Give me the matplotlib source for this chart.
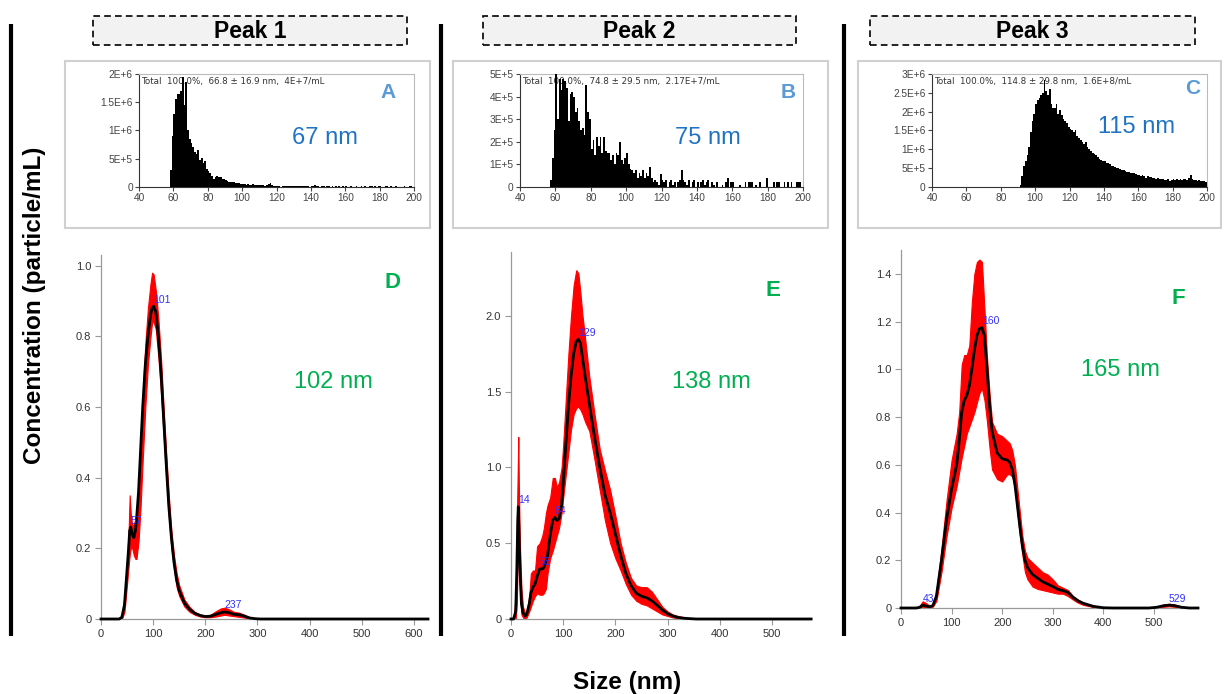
import numpy as np
import matplotlib
matplotlib.use("Agg")
import matplotlib.pyplot as plt
from matplotlib.lines import Line2D
from matplotlib.patches import Rectangle

plt.rcParams['font.family'] = ['Liberation Sans', 'DejaVu Sans']

W, H = 1226, 694

# ---- NTA histograms (1 nm bins) ----
hist_a_start = 58   # x1E+6
hist_a = [0.30, 0.90, 1.30, 1.55, 1.65, 1.65, 1.70, 1.95, 1.45, 1.85,
          1.00, 0.85, 0.78, 0.70, 0.62, 0.58, 0.66, 0.47, 0.52, 0.42,
          0.46, 0.32, 0.28, 0.25, 0.20, 0.15, 0.18, 0.20, 0.18, 0.17,
          0.15, 0.14, 0.12, 0.10, 0.09, 0.08, 0.08, 0.09, 0.07, 0.07,
          0.07, 0.06, 0.06, 0.05, 0.04, 0.05, 0.04, 0.04, 0.05, 0.03,
          0.04, 0.03, 0.04, 0.03, 0.03, 0.02, 0.03, 0.05, 0.07, 0.03,
          0.02, 0.01, 0.02, 0.01, 0.00, 0.01, 0.02, 0.01, 0.01, 0.02,
          0.01, 0.01, 0.02, 0.01, 0.01, 0.01, 0.02, 0.01, 0.01, 0.01,
          0.01, 0.00, 0.01, 0.02, 0.04, 0.01, 0.01, 0.00, 0.01, 0.01,
          0.00, 0.01, 0.01, 0.00, 0.02, 0.00, 0.01, 0.00, 0.01, 0.00,
          0.01, 0.00, 0.01, 0.00, 0.00, 0.01, 0.00, 0.00, 0.01, 0.00,
          0.00, 0.01, 0.00, 0.02, 0.00, 0.00, 0.01, 0.01, 0.00, 0.01,
          0.00, 0.02, 0.01, 0.00, 0.00, 0.01, 0.02, 0.00, 0.01, 0.00,
          0.00, 0.01, 0.00, 0.00, 0.00, 0.00, 0.01, 0.00, 0.00, 0.02, 0.01, 0.00]

hist_b_start = 57   # x1E+5
hist_b = [0.3, 1.3, 2.5, 5.0, 3.0, 4.8, 4.3, 4.8, 4.7, 4.4,
          2.9, 4.1, 4.2, 4.0, 3.3, 3.5, 2.9, 2.5, 2.6, 2.3,
          4.5, 3.3, 3.0, 1.7, 2.1, 1.4, 2.2, 1.8, 2.2, 1.5,
          2.2, 1.6, 1.5, 1.5, 1.2, 1.4, 1.0, 1.5, 1.4, 2.0,
          1.2, 1.0, 1.3, 1.5, 1.0, 0.8, 0.75, 0.6, 0.75, 0.4,
          0.6, 0.5, 0.75, 0.4, 0.6, 0.5, 0.9, 0.4, 0.2, 0.3,
          0.2, 0.1, 0.57, 0.3, 0.2, 0.3, 0.0, 0.2, 0.3, 0.1,
          0.2, 0.0, 0.2, 0.3, 0.75, 0.3, 0.2, 0.1, 0.3, 0.0,
          0.2, 0.3, 0.0, 0.2, 0.0, 0.2, 0.3, 0.1, 0.2, 0.3,
          0.0, 0.2, 0.1, 0.0, 0.2, 0.0, 0.0, 0.1, 0.0, 0.2,
          0.4, 0.0, 0.2, 0.2, 0.0, 0.0, 0.0, 0.1, 0.0, 0.0,
          0.2, 0.0, 0.2, 0.2, 0.2, 0.0, 0.1, 0.0, 0.2, 0.0,
          0.0, 0.0, 0.4, 0.0, 0.0, 0.0, 0.2, 0.0, 0.2, 0.2,
          0.0, 0.0, 0.2, 0.0, 0.2, 0.0, 0.2, 0.0, 0.0, 0.2, 0.2, 0.2, 0.0]

hist_c_start = 91   # x1E+6
hist_c = [0.05, 0.30, 0.55, 0.70, 0.85, 1.05, 1.45, 1.75, 1.95, 2.20,
          2.30, 2.35, 2.45, 2.50, 2.85, 2.55, 2.45, 2.60, 2.20, 2.10,
          2.10, 2.20, 1.95, 2.05, 1.90, 1.80, 1.75, 1.70, 1.60, 1.55,
          1.50, 1.45, 1.50, 1.35, 1.30, 1.25, 1.20, 1.15, 1.20, 1.05,
          1.00, 0.95, 0.90, 0.88, 0.85, 0.80, 0.75, 0.72, 0.70, 0.68,
          0.65, 0.64, 0.60, 0.57, 0.55, 0.52, 0.50, 0.50, 0.47, 0.45,
          0.44, 0.42, 0.40, 0.40, 0.38, 0.37, 0.38, 0.35, 0.33, 0.32,
          0.30, 0.31, 0.28, 0.25, 0.28, 0.26, 0.27, 0.25, 0.24, 0.22,
          0.24, 0.22, 0.20, 0.21, 0.18, 0.19, 0.20, 0.17, 0.19, 0.20,
          0.18, 0.20, 0.19, 0.21, 0.18, 0.20, 0.22, 0.19, 0.25, 0.33,
          0.20, 0.18, 0.19, 0.17, 0.18, 0.16, 0.17, 0.15, 0.12]

# ---- size distributions: mean with upper / lower error band ----
d_x = [0, 35, 40, 45, 50, 53, 55, 57, 60, 63, 66, 68, 72, 76, 80, 85, 90, 95, 98, 101,
       105, 110, 115, 120, 125, 130, 135, 140, 145, 150, 160, 170, 180, 190, 200, 210,
       220, 230, 237, 245, 255, 265, 275, 285, 295, 305, 627]
d_mean = [0, 0, 0.005, 0.04, 0.14, 0.20, 0.25, 0.26, 0.24, 0.23, 0.25, 0.28, 0.36, 0.48,
          0.60, 0.72, 0.80, 0.86, 0.88, 0.885, 0.87, 0.80, 0.70, 0.57, 0.44, 0.32, 0.23,
          0.16, 0.11, 0.08, 0.045, 0.027, 0.016, 0.010, 0.007, 0.008, 0.013, 0.018, 0.020,
          0.018, 0.013, 0.012, 0.008, 0.003, 0.001, 0, 0]
d_hi = [0, 0, 0.01, 0.06, 0.17, 0.25, 0.35, 0.30, 0.26, 0.27, 0.28, 0.30, 0.38, 0.50,
        0.64, 0.78, 0.88, 0.95, 0.98, 0.975, 0.93, 0.85, 0.74, 0.60, 0.47, 0.35, 0.25,
        0.18, 0.13, 0.095, 0.055, 0.034, 0.020, 0.013, 0.009, 0.012, 0.022, 0.030, 0.032,
        0.028, 0.020, 0.018, 0.012, 0.005, 0.002, 0, 0]
d_lo = [0, 0, 0, 0.02, 0.10, 0.15, 0.18, 0.20, 0.20, 0.18, 0.17, 0.17, 0.22, 0.32,
        0.45, 0.60, 0.72, 0.80, 0.84, 0.84, 0.82, 0.74, 0.64, 0.52, 0.40, 0.29, 0.20,
        0.14, 0.09, 0.065, 0.035, 0.020, 0.012, 0.007, 0.005, 0.005, 0.007, 0.010, 0.012,
        0.010, 0.008, 0.006, 0.004, 0.001, 0, 0, 0]

e_x = [0, 5, 9, 11, 13, 14, 15, 17, 20, 23, 27, 30, 35, 38, 42, 46, 50, 55, 60, 63, 67,
       70, 75, 80, 84, 88, 92, 97, 100, 105, 110, 115, 120, 125, 129, 133, 137, 142, 150,
       160, 170, 180, 190, 200, 210, 220, 230, 240, 250, 260, 270, 280, 290, 300, 310,
       320, 335, 350, 355, 575]
e_mean = [0, 0, 0.05, 0.30, 0.65, 0.74, 0.62, 0.35, 0.10, 0.04, 0.02, 0.03, 0.10, 0.17,
          0.21, 0.23, 0.28, 0.33, 0.33, 0.34, 0.38, 0.42, 0.55, 0.65, 0.67, 0.65, 0.66,
          0.75, 0.90, 1.15, 1.40, 1.60, 1.75, 1.83, 1.845, 1.82, 1.72, 1.60, 1.42, 1.20,
          1.00, 0.82, 0.70, 0.56, 0.42, 0.30, 0.22, 0.17, 0.15, 0.14, 0.12, 0.09, 0.06,
          0.035, 0.02, 0.01, 0.004, 0.001, 0, 0]
e_hi = [0, 0, 0.15, 0.60, 1.00, 1.20, 0.90, 0.50, 0.20, 0.08, 0.04, 0.05, 0.15, 0.30,
        0.32, 0.32, 0.48, 0.50, 0.55, 0.60, 0.70, 0.75, 0.80, 0.93, 0.93, 0.87, 0.90,
        1.00, 1.15, 1.45, 1.75, 2.00, 2.20, 2.30, 2.28, 2.15, 2.00, 1.85, 1.60, 1.35,
        1.12, 0.98, 0.85, 0.68, 0.50, 0.37, 0.27, 0.22, 0.21, 0.21, 0.18, 0.13, 0.08,
        0.05, 0.03, 0.02, 0.008, 0.002, 0, 0]
e_lo = [0, 0, 0, 0.10, 0.40, 0.55, 0.45, 0.20, 0.03, 0.01, 0, 0.01, 0.05, 0.08,
        0.12, 0.15, 0.17, 0.16, 0.16, 0.17, 0.20, 0.30, 0.40, 0.45, 0.50, 0.55, 0.60,
        0.70, 0.80, 0.95, 1.10, 1.25, 1.35, 1.39, 1.40, 1.38, 1.35, 1.30, 1.24, 1.05,
        0.85, 0.65, 0.50, 0.40, 0.32, 0.23, 0.16, 0.12, 0.10, 0.09, 0.07, 0.05, 0.03,
        0.02, 0.01, 0.005, 0, 0, 0, 0]

f_x = [0, 30, 37, 43, 50, 57, 63, 70, 80, 90, 100, 110, 115, 120, 125, 130, 135, 140,
       145, 150, 155, 160, 165, 170, 175, 180, 190, 200, 210, 215, 220, 225, 230, 235,
       240, 245, 250, 260, 270, 280, 290, 300, 310, 320, 330, 340, 350, 360, 380, 400,
       420, 490, 505, 520, 530, 540, 555, 570, 587]
f_mean = [0, 0, 0.003, 0.012, 0.008, 0.005, 0.01, 0.05, 0.20, 0.37, 0.50, 0.60, 0.70,
          0.82, 0.87, 0.89, 0.93, 1.00, 1.08, 1.14, 1.17, 1.175, 1.14, 1.00, 0.85, 0.74,
          0.65, 0.625, 0.62, 0.61, 0.58, 0.52, 0.43, 0.34, 0.26, 0.20, 0.17, 0.14, 0.125,
          0.11, 0.10, 0.09, 0.078, 0.073, 0.065, 0.045, 0.03, 0.02, 0.007, 0.001, 0, 0,
          0.003, 0.010, 0.012, 0.010, 0.003, 0, 0]
f_hi = [0, 0, 0.01, 0.028, 0.02, 0.008, 0.015, 0.07, 0.25, 0.45, 0.62, 0.73, 0.82,
        1.02, 1.06, 1.06, 1.10, 1.28, 1.40, 1.45, 1.46, 1.45, 1.25, 1.05, 0.90, 0.78,
        0.73, 0.72, 0.70, 0.69, 0.66, 0.60, 0.50, 0.40, 0.30, 0.24, 0.21, 0.19, 0.17,
        0.15, 0.14, 0.12, 0.095, 0.085, 0.075, 0.05, 0.035, 0.022, 0.009, 0.002, 0, 0,
        0.005, 0.015, 0.018, 0.015, 0.005, 0, 0]
f_lo = [0, 0, 0, 0.003, 0.002, 0.002, 0.006, 0.03, 0.15, 0.30, 0.42, 0.51, 0.57,
        0.63, 0.68, 0.73, 0.76, 0.79, 0.82, 0.86, 0.90, 0.92, 0.87, 0.78, 0.67, 0.58,
        0.54, 0.53, 0.56, 0.56, 0.55, 0.50, 0.40, 0.30, 0.22, 0.15, 0.12, 0.09, 0.08,
        0.075, 0.07, 0.065, 0.06, 0.06, 0.05, 0.035, 0.022, 0.013, 0.004, 0, 0, 0,
        0.001, 0.005, 0.007, 0.005, 0.001, 0, 0]

# peak positions marked on each distribution (size, height)
d_peaks = [(57, 0.26), (101, 0.885), (237, 0.02)]
e_peaks = [(14, 0.74), (55, 0.33), (84, 0.67), (129, 1.845)]
f_peaks = [(43, 0.012), (160, 1.175), (529, 0.012)]

summary = ["Total  100.0%,  66.8 \u00b1 16.9 nm,  4E+7/mL",
           "Total  100.0%,  74.8 \u00b1 29.5 nm,  2.17E+7/mL",
           "Total  100.0%,  114.8 \u00b1 29.8 nm,  1.6E+8/mL"]
mode_nm = ["67 nm", "75 nm", "115 nm"]
mean_nm = ["102 nm", "138 nm", "165 nm"]


fig = plt.figure(figsize=(W / 100, H / 100), dpi=100)


def add_ax(l, t, r, b):
    # axes from pixel box (left, top, right, bottom)
    return fig.add_axes([l / W, 1 - b / H, (r - l) / W, (b - t) / H])


def fig_text(x, y, s, **kw):
    fig.text(x / W, 1 - y / H, s, **kw)


def fig_line(x0, y0, x1, y1, **kw):
    fig.add_artist(Line2D([x0 / W, x1 / W], [1 - y0 / H, 1 - y1 / H],
                          transform=fig.transFigure, **kw))


def fig_rect(l, t, r, b, **kw):
    fig.add_artist(Rectangle((l / W, 1 - b / H), (r - l) / W, (b - t) / H,
                             transform=fig.transFigure, **kw))


# separators
for xs in [11, 441, 844]:
    fig_line(xs, 24, xs, 636, color='black', lw=3, solid_capstyle='butt')

# peak headers
for (l, r), name in zip([(93, 407), (483, 796), (870, 1195)], ["Peak 1", "Peak 2", "Peak 3"]):
    fig_rect(l, 16, r, 45, facecolor='#f2f2f2', edgecolor='black', lw=1.2,
             linestyle=(0, (4, 2.5)))
    fig_text((l + r) / 2, 31, name, ha='center', va='center', fontsize=16.5,
             fontweight='bold')

# ---- top row: histograms ----
hist_sets = [
    (hist_a_start, hist_a, [0, 0.5, 1, 1.5, 2], ["0", "5E+5", "1E+6", "1.5E+6", "2E+6"], 2.0,
     (65, 430), (139, 414), "A", (388, 93), (325, 138)),
    (hist_b_start, hist_b, [0, 1, 2, 3, 4, 5], ["0", "1E+5", "2E+5", "3E+5", "4E+5", "5E+5"], 5.0,
     (453, 828), (520, 803), "B", (788, 93), (708, 138)),
    (hist_c_start, hist_c, [0, 0.5, 1, 1.5, 2, 2.5, 3],
     ["0", "5E+5", "1E+6", "1.5E+6", "2E+6", "2.5E+6", "3E+6"], 3.0,
     (858, 1221), (932, 1207), "C", (1193, 88), (1136, 127)),
]

for i, (start, vals, yt, ytl, ytop, box, axx, letter, lpos, mpos) in enumerate(hist_sets):
    fig_rect(box[0], 61, box[1], 228, facecolor='none', edgecolor='#d0d0d0', lw=1.5)
    ax = add_ax(axx[0], 74, axx[1], 187)
    edges = start + np.arange(len(vals))
    ax.bar(edges, vals, width=1.0, align='edge', color='black', linewidth=0, zorder=3)
    ax.set_xlim(40, 200)
    ax.set_ylim(0, ytop)
    ax.set_xticks(range(40, 201, 20))
    ax.set_yticks(yt)
    ax.set_yticklabels(ytl)
    ax.tick_params(labelsize=7.3, length=3, width=0.8, colors='#444444', pad=1.5)
    for s in ['top', 'right']:
        ax.spines[s].set_color('#bbbbbb')
    for s in ['left', 'bottom']:
        ax.spines[s].set_color('#333333')
    ax.text(0.008, 0.97, summary[i], transform=ax.transAxes, fontsize=6.3,
            color='#333333', va='top', ha='left', zorder=2,
            family=['DejaVu Sans'])
    fig_text(lpos[0], lpos[1], letter, ha='center', va='center', fontsize=15,
             fontweight='bold', color='#5b9bd5')
    fig_text(mpos[0], mpos[1], mode_nm[i], ha='center', va='center',
             fontsize=17, color='#1f73c4')

# ---- bottom row: size distributions ----
dist_sets = [
    (d_x, d_mean, d_lo, d_hi, d_peaks, (101, 255, 428, 619), 627, 1.03,
     [0, 0.2, 0.4, 0.6, 0.8, 1.0], range(0, 601, 100), "D", (392, 282), (333, 382)),
    (e_x, e_mean, e_lo, e_hi, e_peaks, (511, 252, 808, 619), 569, 2.42,
     [0, 0.5, 1.0, 1.5, 2.0], range(0, 501, 100), "E", (773, 290), (711, 382)),
    (f_x, f_mean, f_lo, f_hi, f_peaks, (901, 250, 1198, 608), 587, 1.50,
     [0, 0.2, 0.4, 0.6, 0.8, 1.0, 1.2, 1.4], range(0, 501, 100), "F", (1178, 298), (1120, 370)),
]

for i, (xs, mean, lo, hi, peaks, box, xmax, ymax, yt, xt, letter, lpos, mpos) in enumerate(dist_sets):
    ax = add_ax(*box)
    ax.fill_between(xs, lo, hi, color='#ff0000', linewidth=0.8, edgecolor='#ff0000', zorder=2)
    ax.plot(xs, mean, color='black', lw=2.0, zorder=3, clip_on=False)
    for px, py in peaks:
        ax.text(px, py + ymax * 0.004, str(px), color='#3030ff', fontsize=7.5,
                ha='left', va='bottom', zorder=4)
    ax.set_xlim(0, xmax)
    ax.set_ylim(0, ymax)
    ax.set_xticks(list(xt))
    ax.set_yticks(yt)
    ax.set_yticklabels(["0" if v == 0 else f"{v:.1f}" for v in yt])
    for s in ['top', 'right']:
        ax.spines[s].set_visible(False)
    for s in ['left', 'bottom']:
        ax.spines[s].set_color('#999999')
        ax.spines[s].set_linewidth(0.9)
    ax.tick_params(labelsize=8, length=4, width=0.8, color='#999999',
                   labelcolor='#333333', pad=3)
    fig_text(lpos[0], lpos[1], letter, ha='center', va='center', fontsize=16,
             fontweight='bold', color='#00b050')
    fig_text(mpos[0], mpos[1], mean_nm[i], ha='center', va='center', fontsize=17,
             color='#00b050')

fig_text(35, 305, "Concentration (particle/mL)", rotation=90, ha='center', va='center',
         fontsize=17.5, fontweight='bold')
fig_text(627, 682, "Size (nm)", ha='center', va='center', fontsize=17.5, fontweight='bold')

fig.savefig("out.png", dpi=100, facecolor='white')
